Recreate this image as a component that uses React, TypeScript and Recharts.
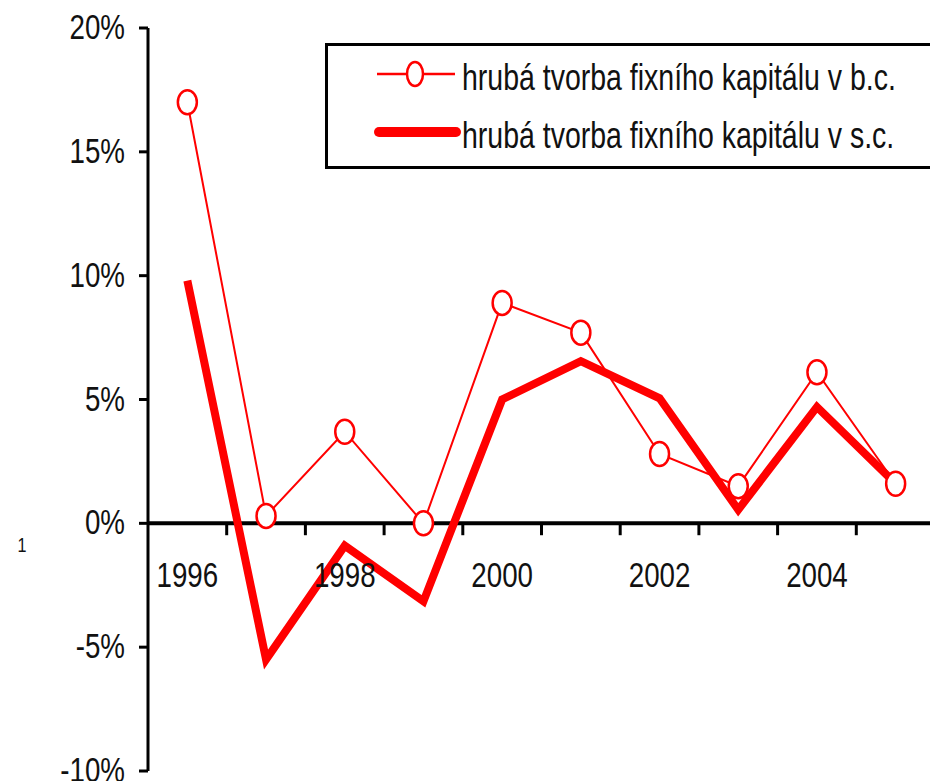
import React from 'react';
import { LineChart, Line, XAxis, YAxis, ReferenceLine, ReferenceDot, Legend } from 'recharts';

// values
const years = [1996, 1997, 1998, 1999, 2000, 2001, 2002, 2003, 2004, 2005];
const bcValues = [17.0, 0.3, 3.7, 0.0, 8.9, 7.7, 2.8, 1.5, 6.1, 1.6];
const scValues = [9.8, -5.5, -0.9, -3.15, 5.0, 6.55, 5.05, 0.55, 4.7, 1.6];
const yTicks = [-10, -5, 0, 5, 10, 15, 20];
const labelYears = [1996, 1998, 2000, 2002, 2004];
const bcName = 'hrubá tvorba fixního kapitálu v b.c.';
const scName = 'hrubá tvorba fixního kapitálu v s.c.';

const RED = '#ff0000';
const FONT = '"Liberation Sans", Arial, sans-serif';
const SX = 0.77; // the original text is squeezed sideways

const data = years.map((year, i) => ({ year, bc: bcValues[i], sc: scValues[i] }));
const boundaries = years.slice(0, -1).map((y) => y + 0.5);

const YTick = (props: any) => {
  const { x, y, payload } = props;
  return (
    <g>
      <text
        transform={`translate(${x},${y + 11}) scale(${SX},1)`}
        textAnchor="end"
        fontFamily={FONT}
        fontSize={36}
        fill="#111"
      >
        {`${payload.value}%`}
      </text>
    </g>
  );
};

const CircleDot = (props: any) => {
  const { cx, cy, index } = props;
  if (cx == null || cy == null) return <g key={`d-${index}`} />;
  return (
    <ellipse
      key={`d-${index}`}
      cx={cx}
      cy={cy}
      rx={9.5}
      ry={12}
      fill="#fff"
      stroke={RED}
      strokeWidth={2.5}
    />
  );
};

const LegendBox = () => (
  <svg width={640} height={130} style={{ display: 'block' }}>
    <rect x={1.5} y={1.5} width={700} height={123} fill="#fff" stroke="#000" strokeWidth={3} />
    <line x1={52} y1={31} x2={130} y2={31} stroke={RED} strokeWidth={2.5} />
    <ellipse cx={90} cy={31} rx={8} ry={12} fill="#fff" stroke={RED} strokeWidth={2.5} />
    <text transform={`translate(137,47) scale(${SX},1)`} fontFamily={FONT} fontSize={37} fill="#111">
      {bcName}
    </text>
    <line x1={54} y1={89} x2={131} y2={89} stroke={RED} strokeWidth={10} strokeLinecap="round" />
    <text transform={`translate(137,105) scale(${SX},1)`} fontFamily={FONT} fontSize={37} fill="#111">
      {scName}
    </text>
  </svg>
);

export default function App() {
  return (
    <div style={{ position: 'absolute', left: 0, top: 0, width: 930, height: 781, overflow: 'hidden', background: '#fff' }}>
      <LineChart width={960} height={781} data={data} margin={{ top: 28, right: 25, bottom: 10, left: 0 }}>
        <XAxis dataKey="year" type="number" domain={[1995.5, 2005.5]} hide />
        <YAxis
          width={148}
          domain={[-10, 20]}
          ticks={yTicks}
          interval={0}
          tickSize={9}
          tickMargin={14}
          axisLine={{ stroke: '#000', strokeWidth: 3 }}
          tickLine={{ stroke: '#000', strokeWidth: 3 }}
          tick={<YTick />}
        />
        <ReferenceLine y={0} stroke="#000" strokeWidth={4} />
        {boundaries.map((b) => (
          <ReferenceLine
            key={`t-${b}`}
            segment={[{ x: b, y: 0 }, { x: b, y: -0.48 }]}
            stroke="#000"
            strokeWidth={3}
          />
        ))}
        {labelYears.map((yr) => (
          <ReferenceDot
            key={`l-${yr}`}
            x={yr}
            y={0}
            r={1}
            shape={(p: any) => (
              <text
                transform={`translate(${p.cx},${p.cy + 64}) scale(${SX},1)`}
                textAnchor="middle"
                fontFamily={FONT}
                fontSize={36}
                fill="#111"
              >
                {yr}
              </text>
            )}
          />
        ))}
        <Line
          dataKey="sc"
          name={scName}
          stroke={RED}
          strokeWidth={8}
          strokeLinejoin="miter"
          dot={false}
          activeDot={false}
          isAnimationActive={false}
        />
        <Line
          dataKey="bc"
          name={bcName}
          stroke={RED}
          strokeWidth={2}
          dot={<CircleDot />}
          activeDot={false}
          isAnimationActive={false}
        />
        <Legend
          layout="horizontal"
          verticalAlign="middle"
          align="center"
          content={() => <LegendBox />}
          wrapperStyle={{ position: 'absolute', left: 325, top: 43, width: 640, height: 130 }}
        />
      </LineChart>
      <svg width={40} height={600} style={{ position: 'absolute', left: 0, top: 0 }}>
        <text transform={`translate(22,552) scale(${SX},1)`} textAnchor="middle" fontFamily={FONT} fontSize={21} fill="#111">
          1
        </text>
      </svg>
    </div>
  );
}
